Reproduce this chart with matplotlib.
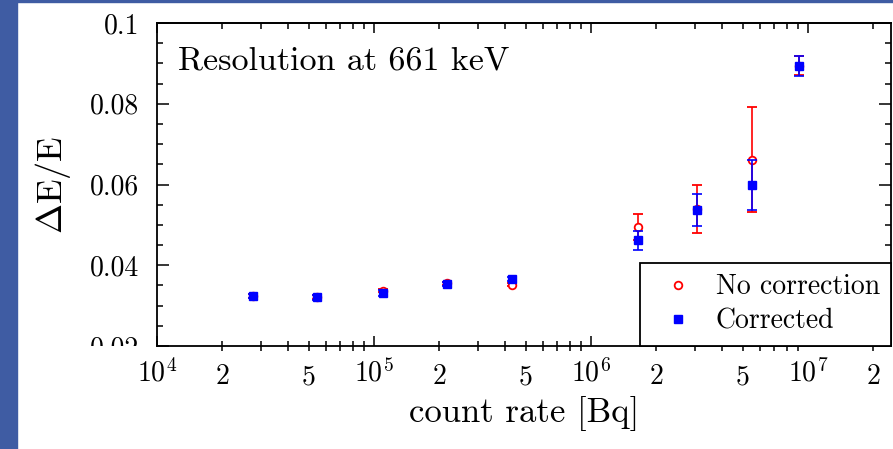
import matplotlib
matplotlib.use("Agg")
import matplotlib.pyplot as plt
from matplotlib import ticker
from matplotlib.patches import Rectangle
from matplotlib.transforms import Bbox, TransformedBbox
import numpy as np

# ---------- data ----------
rate = [2.77e4, 5.46e4, 1.10e5, 2.17e5, 4.32e5, 1.64e6, 3.08e6, 5.52e6, 9.08e6]

res_raw = [0.0324, 0.0321, 0.0337, 0.0355, 0.0352, 0.0495, 0.0540, 0.0661, 0.0894]
err_raw = [0.0004, 0.0005, 0.0004, 0.0004, 0.0004, 0.0032, 0.0060, 0.0130, 0.0024]

res_cor = [0.0324, 0.0321, 0.0331, 0.0353, 0.0366, 0.0462, 0.0537, 0.0599, 0.0894]
err_cor = [0.0004, 0.0006, 0.0007, 0.0005, 0.0006, 0.0024, 0.0040, 0.0062, 0.0025]

yticks = [0.02, 0.04, 0.06, 0.08, 0.1]

# ---------- style ----------
plt.rcParams["font.family"] = "cmr10"
plt.rcParams["mathtext.fontset"] = "cm"
plt.rcParams["axes.formatter.use_mathtext"] = True

W, H = 893, 449
fig = plt.figure(figsize=(W / 100, H / 100), dpi=100)
fig.patch.set_facecolor("white")

# slide background strips (left + top)
fig.patches.append(Rectangle((0, 0), 17 / W, 1, transform=fig.transFigure,
                             color="#3f5ca3", zorder=0))
fig.patches.append(Rectangle((0, 1 - 2 / H), 1, 2 / H, transform=fig.transFigure,
                             color="#3f5ca3", zorder=0))

L, R, T, B = 157, 891, 23, 346
ax = fig.add_axes([L / W, 1 - B / H, (R - L) / W, (B - T) / H])

eb_raw = ax.errorbar(rate, res_raw, yerr=err_raw, fmt="o", color="#ff0000", ms=5.5,
                     mfc="white", mec="#ff0000", mew=1.3, elinewidth=1.2, capsize=3.8,
                     capthick=1.2, zorder=3)
eb_cor = ax.errorbar(rate, res_cor, yerr=err_cor, fmt="s", color="#0000ff", ms=6.4,
                     elinewidth=1.2, capsize=3.8, capthick=1.2, zorder=4)

ax.set_xscale("log")
ax.set_xlim(1e4, 10 ** (4 + (R - L) / 217))
ax.set_ylim(0.02, 0.1)

ax.set_yticks(yticks)
ax.yaxis.set_minor_locator(ticker.MultipleLocator(0.005))
ax.yaxis.set_major_formatter(ticker.FuncFormatter(lambda v, p: "%g" % round(v, 3)))

ax.xaxis.set_major_locator(ticker.LogLocator(base=10, numticks=10))
ax.xaxis.set_minor_locator(ticker.LogLocator(base=10, subs=np.arange(2, 10), numticks=20))


def minor_fmt(v, pos):
    m = int(round(v / 10 ** np.floor(np.log10(v))))
    return str(m) if m in (2, 5) else ""


ax.xaxis.set_minor_formatter(ticker.FuncFormatter(minor_fmt))

for s in ax.spines.values():
    s.set_linewidth(1.3)

ax.tick_params(axis="y", which="both", direction="in", left=True, right=True,
               width=1.1, labelsize=20, pad=13)
ax.tick_params(axis="y", which="major", length=8.5)
ax.tick_params(axis="y", which="minor", length=4.5)
ax.tick_params(axis="x", which="both", top=False, width=1.1, labelsize=20, pad=9)
ax.tick_params(axis="x", which="major", direction="in", length=7.5)
ax.tick_params(axis="x", which="minor", direction="inout", length=7.5)

# top ticks point inward only
top = ax.secondary_xaxis("top")
top.xaxis.set_major_locator(ticker.LogLocator(base=10, numticks=10))
top.xaxis.set_minor_locator(ticker.LogLocator(base=10, subs=np.arange(2, 10), numticks=20))
top.xaxis.set_major_formatter(ticker.NullFormatter())
top.xaxis.set_minor_formatter(ticker.NullFormatter())
top.tick_params(which="both", direction="in", width=1.1)
top.tick_params(which="major", length=7.5)
top.tick_params(which="minor", length=4)
top.spines["top"].set_linewidth(1.3)

ax.set_xlabel("count rate [Bq]", fontsize=25, labelpad=4)
ax.set_ylabel(r"$\Delta$E/E", fontsize=26, labelpad=12)

ax.text(0.0286, 0.857, "Resolution at 661 keV", transform=ax.transAxes,
        fontsize=24.5, va="baseline", ha="left")

# legend shows markers only
leg = ax.legend([eb_raw[0], eb_cor[0]], ["No correction", "Corrected"],
                loc="lower right", fontsize=20, borderaxespad=0, fancybox=False,
                framealpha=1, edgecolor="black", handlelength=1.95,
                handletextpad=0.38, labelspacing=0.3, borderpad=0.4, numpoints=1)
leg.get_frame().set_linewidth(1.3)

# clip the lowest y tick label at the x axis, as in the original
fig.canvas.draw()
clip = TransformedBbox(Bbox([[0, 1 - B / H], [1, 1]]), fig.transFigure)
for lab in ax.get_yticklabels():
    lab.set_clip_box(clip)
    lab.set_clip_on(True)

fig.savefig("out.png", dpi=100)
